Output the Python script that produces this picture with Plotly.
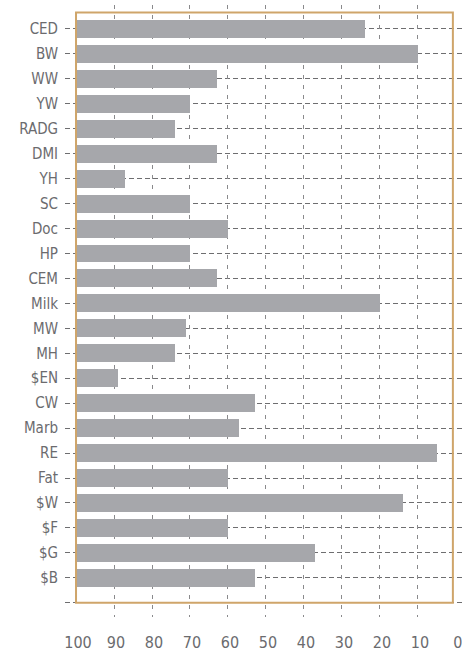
import plotly.graph_objects as go

categories = ["CED", "BW", "WW", "YW", "RADG", "DMI", "YH", "SC", "Doc", "HP", "CEM",
              "Milk", "MW", "MH", "$EN", "CW", "Marb", "RE", "Fat", "$W", "$F", "$G", "$B"]
percentiles = [24, 10, 63, 70, 74, 63, 87, 70, 60, 70, 63,
               20, 71, 74, 89, 53, 57, 5, 60, 14, 60, 37, 53]
x_ticks = [100, 90, 80, 70, 60, 50, 40, 30, 20, 10, 0]

FONT = "DejaVu Sans Condensed, Liberation Sans Narrow, Roboto, sans-serif"
GRID = "#6e6e70"
FRAME = "#cfa56a"

ypos = list(range(len(categories)))

fig = go.Figure()
fig.add_trace(go.Bar(
    y=ypos,
    x=[p - 100 for p in percentiles],
    base=100,
    orientation="h",
    width=0.72,
    marker=dict(color="#a6a7ab", line=dict(width=0)),
    hovertext=categories,
    showlegend=False,
))

fig.update_layout(
    width=462, height=653,
    margin=dict(l=65, r=0, t=5, b=36),
    paper_bgcolor="white", plot_bgcolor="white",
    bargap=0,
    xaxis=dict(
        range=[102.9, -1.6],
        tickvals=x_ticks,
        ticktext=[str(v) for v in x_ticks],
        showgrid=False, zeroline=False, showline=False,
        ticks="outside", ticklen=11, tickcolor="rgba(0,0,0,0)",
        ticklabelshift=-2,
        ticklabeloverflow="allow",
        automargin=False,
        tickfont=dict(family=FONT, size=16, color="#6b6b6e"),
    ),
    xaxis2=dict(
        overlaying="x", matches="x", side="bottom",
        tickvals=x_ticks[1:-1],
        showticklabels=False,
        showgrid=True, gridcolor="#8a8a8c", griddash="4px,6px", gridwidth=1,
        zeroline=False, showline=False, automargin=False,
    ),
    yaxis=dict(
        range=[23.57, -0.96],
        tickvals=list(range(len(categories) + 1)),
        ticktext=categories + [""],
        showgrid=True, gridcolor=GRID, griddash="5px,3px", gridwidth=1,
        zeroline=False, showline=False,
        ticks="outside", ticklen=3, tickcolor="rgba(0,0,0,0)",
        automargin=False,
        tickfont=dict(family=FONT, size=15, color="#6b6b6e"),
    ),
    shapes=[dict(
        type="rect", xref="x", yref="y",
        x0=100, x1=0.8, y0=-0.66, y1=23.0,
        line=dict(color=FRAME, width=2),
        fillcolor="rgba(0,0,0,0)",
        layer="above",
    )],
)
fig.add_trace(go.Scatter(x=[50], y=[0], xaxis="x2", mode="markers",
                         marker=dict(opacity=0), showlegend=False, hoverinfo="skip"))

fig.write_html("out.html", config={"displayModeBar": False},
               post_script="document.body.style.margin='0';document.body.style.padding='0';")
